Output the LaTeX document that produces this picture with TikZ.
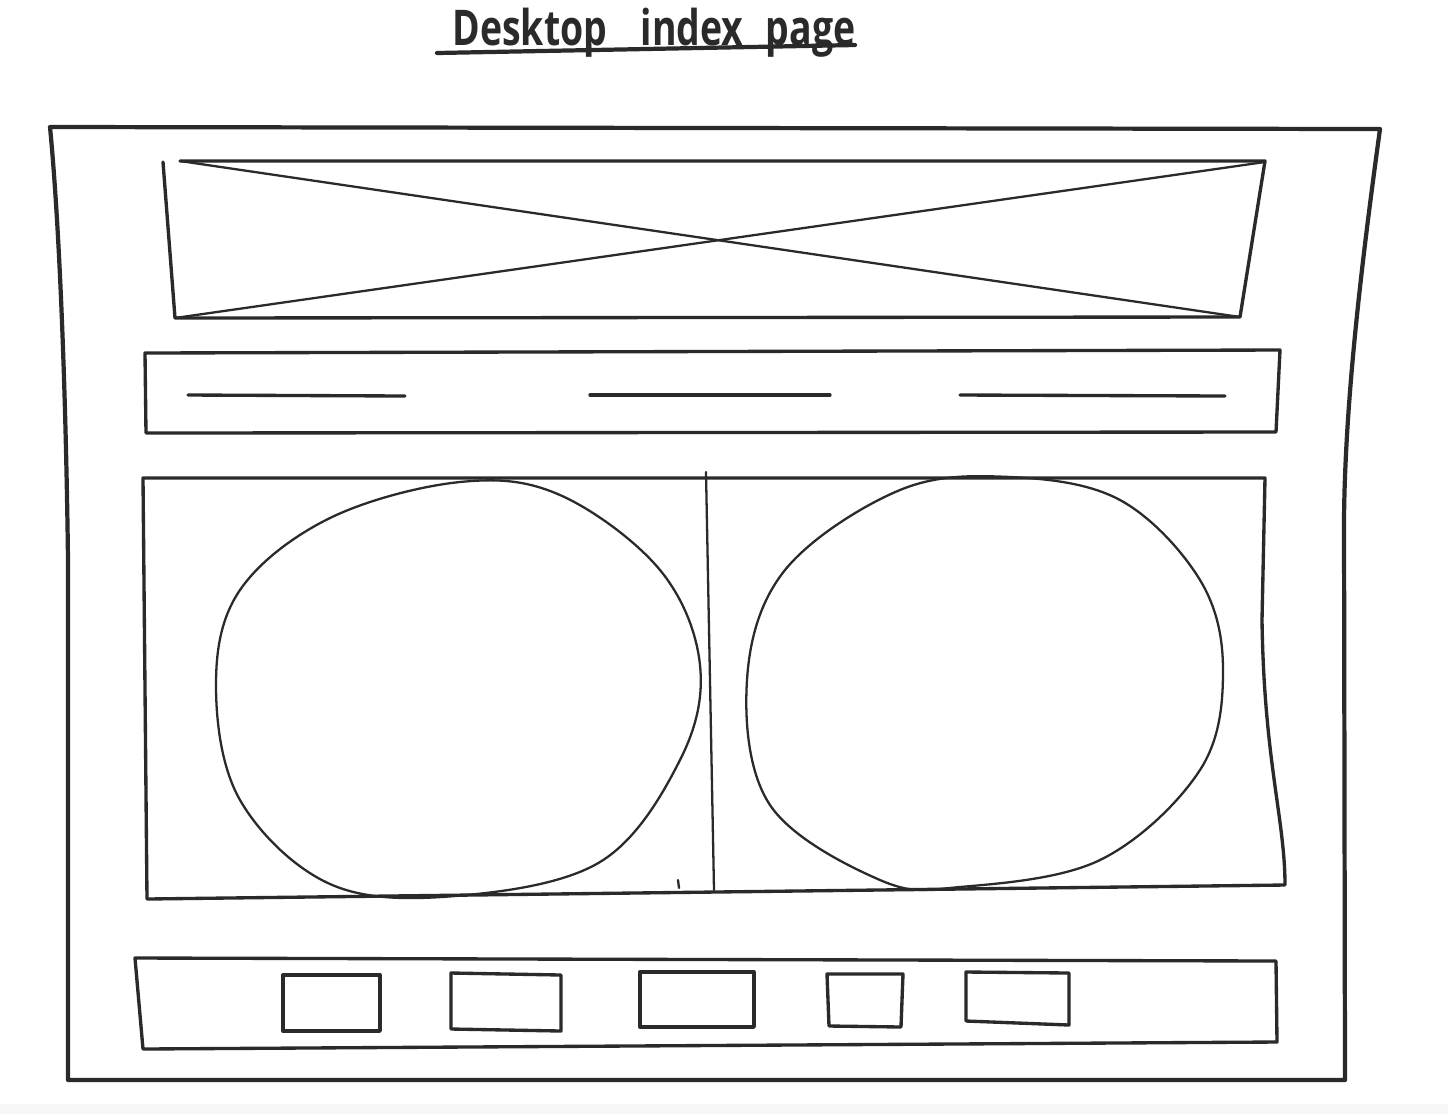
\documentclass[tikz,border=0pt]{standalone}
\usepackage{fontspec}
\setmainfont{Open Sans}
\definecolor{ink}{HTML}{2A2A2A}
\tikzset{
  thick line/.style={draw=ink, line width=1.2pt, line cap=round, line join=round},
  mid line/.style={draw=ink, line width=0.95pt, line cap=round, line join=round},
  thin line/.style={draw=ink, line width=0.65pt, line cap=round, line join=round},
  title text/.style={text=ink, font=\fontsize{14}{17}\selectfont\bfseries, inner sep=0pt, anchor=base}
}
\begin{document}
\begin{tikzpicture}[x=0.01cm,y=-0.01cm]
\useasboundingbox (0,0) rectangle (1448,1114);
\fill[white] (0,0) rectangle (1448,1114);
\fill[gray!6] (0,1104) rectangle (1448,1114);

% title
\node[title text] (title) at (654,45) {\scalebox{0.76}[1]{Desktop\hspace{0.9em}index\hspace{0.6em}page}};
\coordinate (ulL) at (437,53);
\coordinate (ulR) at (855,45);
\draw[thick line] (ulL) -- (ulR);

% outer frame
\draw[thick line] (50,127) -- (1380,129)
  .. controls (1362,260) and (1345,400) .. (1344,520)
  -- (1345,1080) -- (68,1080) -- (68,560)
  .. controls (66,400) and (60,230) .. (50,127) -- cycle;

% banner with X
\draw[mid line] (163,162) -- (175,318) -- (1240,317) -- (1265,161) -- (180,161);
\draw[thin line] (180,161) -- (1240,317);
\draw[thin line] (175,318) -- (1265,162);

% nav bar
\draw[mid line] (145,353) -- (1280,350) -- (1276,432) -- (146,433) -- cycle;
\draw[mid line] (188,395) -- (405,396);
\draw[mid line] (590,395) -- (830,395);
\draw[mid line] (960,395) -- (1225,396);

% content
\draw[mid line] (143,478) -- (1265,478) -- (1262,620)
  .. controls (1264,760) and (1285,820) .. (1285,885) -- (147,899) -- cycle;
\draw[thin line] (706,472) -- (714,890);
\draw[thin line] (678,880) -- (679,888);

% circles
\draw[thin line] plot[smooth cycle, tension=0.6] coordinates {
  (216,685) (240,800) (330,884) (455,896) (600,862) (680,760) (700,665)
  (660,570) (560,495) (460,482) (330,518) (240,590)};
\draw[thin line] plot[smooth cycle, tension=0.6] coordinates {
  (747,680) (770,805) (880,880) (960,887) (1100,860) (1200,770) (1223,670)
  (1200,580) (1120,500) (1010,477) (900,490) (785,570)};

% footer
\draw[mid line] (135,958) -- (1276,961) -- (1277,1042) -- (143,1049) -- cycle;
\draw[mid line] (283,975) rectangle (380,1031);
\draw[mid line] (451,973) -- (561,975) -- (561,1031) -- (451,1029) -- cycle;
\draw[mid line] (640,972) rectangle (754,1027);
\draw[mid line] (827,974) -- (903,974) -- (901,1027) -- (829,1026) -- cycle;
\draw[mid line] (966,972) -- (1069,973) -- (1069,1025) -- (966,1021) -- cycle;
\end{tikzpicture}
\end{document}
